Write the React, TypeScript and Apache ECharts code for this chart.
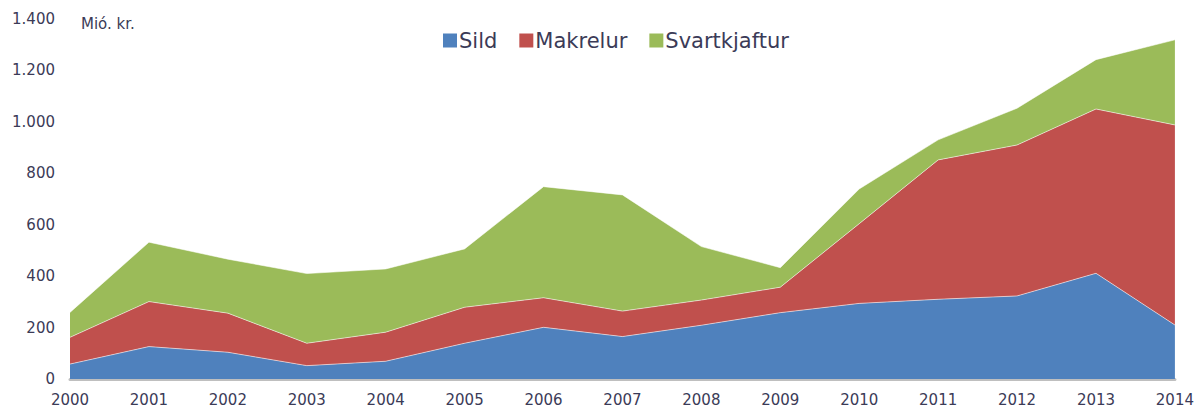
import React, { useEffect, useRef } from "react";
import * as echarts from "echarts";

const years = ["2000","2001","2002","2003","2004","2005","2006","2007","2008","2009","2010","2011","2012","2013","2014"];
const sild = [58, 126, 104, 52, 69, 139, 201, 165, 209, 258, 294, 310, 323, 411, 210];
const makrelur = [104, 175, 152, 87, 113, 140, 115, 99, 98, 99, 310, 542, 587, 639, 778];
const svartkjaftur = [97, 231, 210, 271, 246, 227, 432, 452, 208, 76, 135, 78, 143, 192, 331];
const seriesNames = ["Sild", "Makrelur", "Svartkjaftur"];
const colors = ["#4F81BD", "#C0504D", "#9BBB59"];
const unitLabel = "Mió. kr.";

const textColor = "#3b3b57";
const font = "'DejaVu Sans', Verdana, sans-serif";

export default function App() {
  const ref = useRef<HTMLDivElement>(null);
  useEffect(() => {
    if (!ref.current) return;
    const chart = echarts.init(ref.current, null, { renderer: "svg" });
    const data = [sild, makrelur, svartkjaftur];
    chart.setOption({
      animation: false,
      color: colors,
      legend: {
        data: seriesNames,
        top: 25,
        left: 438,
        itemWidth: 14,
        itemHeight: 14,
        itemGap: 22,
        icon: "rect",
        textStyle: { fontFamily: font, fontSize: 21, color: textColor, padding: [0, 0, 0, -3] },
      },
      graphic: [
        {
          type: "text",
          left: 81,
          top: 16,
          style: { text: unitLabel, fontFamily: font, fontSize: 15, fill: textColor },
        },
      ],
      grid: { left: 70, right: 22, top: 19, bottom: 29 },
      xAxis: {
        type: "category",
        data: years,
        boundaryGap: false,
        axisLine: { lineStyle: { color: "#BFBFBF", width: 3 } },
        axisTick: { show: false },
        axisLabel: { fontFamily: font, fontSize: 15, color: textColor, margin: 13 },
        splitLine: { show: false },
      },
      yAxis: {
        type: "value",
        min: 0,
        max: 1400,
        interval: 200,
        axisLine: { show: false },
        axisTick: { show: false },
        splitLine: { show: false },
        axisLabel: {
          fontFamily: font,
          fontSize: 15,
          color: textColor,
          margin: 15,
          formatter: (v: number) => v.toString().replace(/\B(?=(\d{3})+(?!\d))/g, "."),
        },
      },
      series: seriesNames.map((name, i) => ({
        name,
        type: "line",
        stack: "total",
        data: data[i],
        symbol: "none",
        lineStyle: { width: 1, color: "rgba(255,255,255,0.55)" },
        areaStyle: { color: colors[i], opacity: 1 },
        itemStyle: { color: colors[i] },
      })),
    });
    return () => chart.dispose();
  }, []);
  return <div ref={ref} style={{ width: 1197, height: 408, position: "absolute", left: 0, top: 0 }} />;
}
